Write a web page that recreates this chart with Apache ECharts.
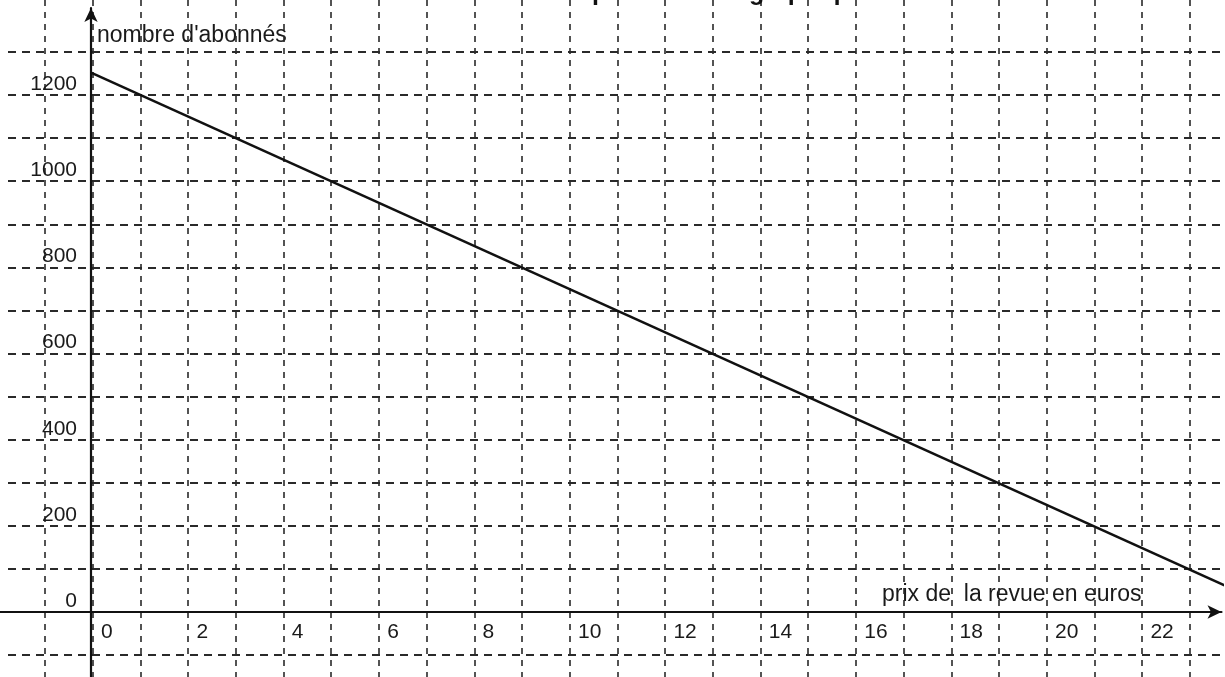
<!DOCTYPE html>
<html>
<head>
<meta charset="utf-8">
<script src="https://cdn.jsdelivr.net/npm/echarts@6/dist/echarts.min.js"></script>
<style>
  html, body { margin: 0; padding: 0; background: #fff; }
  #main { width: 1225px; height: 677px; }
</style>
</head>
<body>
<div id="main"></div>
<script>
// données : prix de la revue (euros) -> nombre d'abonnés
var prix = [0, 24];
var abonnes = [1250, 50];
var xTicks = [0, 2, 4, 6, 8, 10, 12, 14, 16, 18, 20, 22];
var yTicks = [0, 200, 400, 600, 800, 1000, 1200];

var myChart = echarts.init(document.getElementById('main'));

var police = '"Liberation Sans", Arial, sans-serif';
var points = prix.map(function (p, i) { return [p, abonnes[i]]; });

var option = {
    backgroundColor: '#fff',
    animation: false,
    graphic: [
        { type: 'text', x: 560, y: 6, z: 100,
          style: { text: 'Représentation graphique', font: 'bold 25px ' + police, fill: '#111',
                   verticalAlign: 'bottom' } },
        { type: 'text', left: 97, top: 24,
          style: { text: "nombre d'abonnés", font: '23px ' + police, fill: '#1a1a1a' } },
        { type: 'text', left: 882, top: 583,
          style: { text: 'prix de  la revue en euros', font: '23px ' + police, fill: '#1a1a1a' } }
    ],
    grid: [
        // quadrillage vertical
        { left: 45, right: -12.5, top: 0, bottom: 0, outerBoundsMode: 'none' },
        // quadrillage horizontal
        { left: 8, right: 0, top: 52, bottom: 22, outerBoundsMode: 'none' },
        // repère principal
        { left: -4.4, right: 3.5, top: 8, bottom: -21.3, outerBoundsMode: 'none' }
    ],
    xAxis: [
        { gridIndex: 0, type: 'value', min: -1, max: 24, interval: 1,
          axisLine: { show: false }, axisTick: { show: false }, axisLabel: { show: false },
          splitLine: { show: true, lineStyle: { color: '#2a2a2a', width: 1.6, type: [6, 6] } } },
        { gridIndex: 1, type: 'value', min: 0, max: 1, show: false },
        { gridIndex: 2, type: 'value', min: -2, max: 23.7, interval: 2,
          position: 'bottom', offset: -86.3,
          axisLine: { show: true, onZero: false, symbol: ['none', 'arrow'], symbolSize: [10, 14],
                      lineStyle: { color: '#111', width: 2.2 } },
          axisTick: { show: false },
          splitLine: { show: false },
          axisLabel: {
              show: true, margin: 10, align: 'left', padding: [0, 0, 0, 10],
              color: '#1a1a1a', fontSize: 21, fontFamily: police,
              formatter: function (v) { return xTicks.indexOf(v) >= 0 ? String(v) : ''; }
          } }
    ],
    yAxis: [
        { gridIndex: 0, type: 'value', min: 0, max: 1, show: false },
        { gridIndex: 1, type: 'value', min: -100, max: 1300, interval: 100,
          axisLine: { show: false }, axisTick: { show: false }, axisLabel: { show: false },
          splitLine: { show: true, lineStyle: { color: '#2a2a2a', width: 2, type: [8, 6] } } },
        { gridIndex: 2, type: 'value', min: -200, max: 1400, interval: 200,
          position: 'left', offset: -95.4,
          axisLine: { show: true, onZero: false, symbol: ['none', 'arrow'], symbolSize: [10, 14],
                      lineStyle: { color: '#111', width: 2.2 } },
          axisTick: { show: false },
          splitLine: { show: false },
          axisLabel: {
              show: true, margin: 14, verticalAlign: 'bottom',
              color: '#1a1a1a', fontSize: 21, fontFamily: police,
              formatter: function (v) { return yTicks.indexOf(v) >= 0 ? String(v) : ''; }
          } }
    ],
    series: [
        {
            name: 'abonnés',
            type: 'line',
            xAxisIndex: 2,
            yAxisIndex: 2,
            data: points,
            showSymbol: false,
            lineStyle: { color: '#111', width: 2.5 }
        }
    ]
};

myChart.setOption(option);
</script>
</body>
</html>
